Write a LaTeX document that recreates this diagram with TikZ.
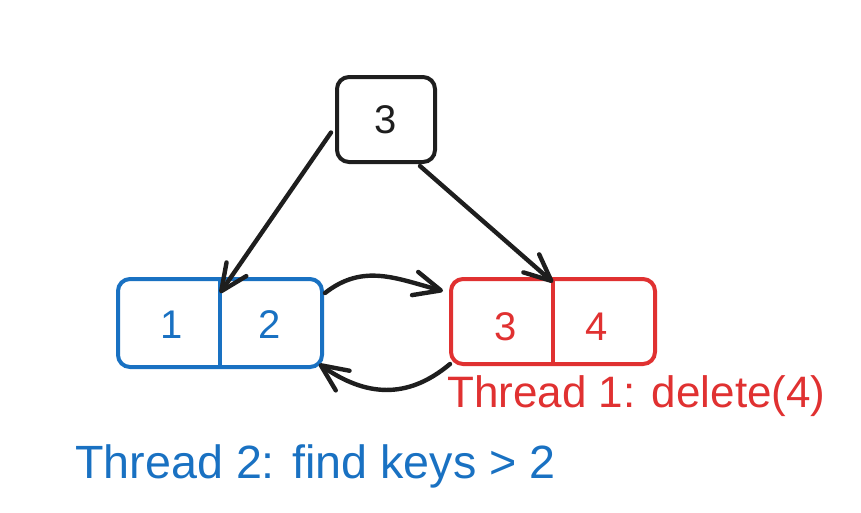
\documentclass[tikz,border=0pt]{standalone}
\usepackage{fontspec}
\setmainfont{Liberation Sans}
\usetikzlibrary{arrows.meta}
\definecolor{inkblack}{HTML}{1E1E1E}
\definecolor{inkblue}{HTML}{1971C2}
\definecolor{inkred}{HTML}{E03131}
\begin{document}
\begin{tikzpicture}[x=0.75pt,y=-0.75pt,
  box/.style={draw,line width=3pt,rounded corners=9pt,inner sep=0pt},
  num/.style={font=\fontsize{30}{34}\selectfont},
  lbl/.style={anchor=west,inner sep=0pt},
  arr/.style={draw=inkblack,line width=3.3pt,line cap=round,line join=round,
    -{Straight Barb[length=20pt,width=18pt,line width=3.3pt,round]}}]
\useasboundingbox (0,0) rectangle (861,512);
% top node
\node[box,draw=inkblack,minimum width=73.5pt,minimum height=63.75pt] (top) at (386,119.5) {};
\node[num,text=inkblack] (t3) at (top.center) {3};
% blue leaf
\node[box,draw=inkblue,minimum width=153pt,minimum height=66pt] (blue) at (220,323) {};
\draw[inkblue,line width=3pt] (blue.north) -- (blue.south);
\node[num,text=inkblue] (b1) at (172,325) {1};
\node[num,text=inkblue] (b2) at (270,325) {2};
% red leaf
\node[box,draw=inkred,minimum width=153pt,minimum height=63.75pt] (red) at (553,321.5) {};
\draw[inkred,line width=3pt] (red.north) -- (red.south);
\node[num,text=inkred] (r3) at (506,327) {3};
\node[num,text=inkred] (r4) at (597,327) {4};
% connectors
\draw[arr] ([shift={(-4,13)}]top.west) -- ([yshift=-12]blue.north);
\draw[arr] ([shift={(-17,2)}]top.south east) -- ([yshift=-4]red.north);
\draw[arr] ([shift={(1,16)}]blue.north east) to[out=38,in=165,looseness=1.05] ([shift={(-6,14)}]red.north west);
\draw[arr] ([shift={(1,-2)}]red.south west) to[out=-140,in=-35,looseness=1.1] ([shift={(-5,-5)}]blue.south east);
% labels
\node[lbl,text=inkred,font=\fontsize{33}{38}\selectfont] (t1) at (447,396) {Thread 1: delete(4)};
\node[lbl,text=inkblue,font=\fontsize{35}{40}\selectfont] (t2) at (75,466) {Thread 2: find keys > 2};
\end{tikzpicture}
\end{document}
